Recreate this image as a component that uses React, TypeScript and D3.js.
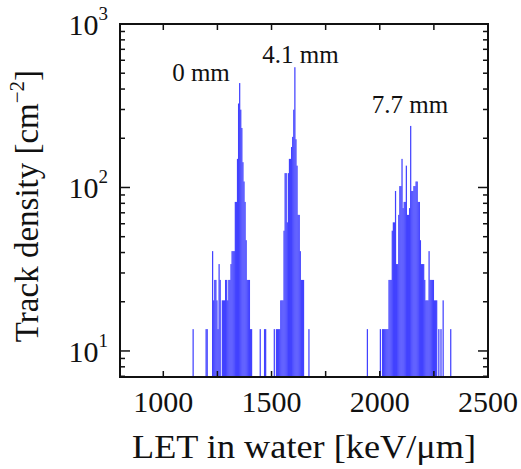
import React from 'react';
import * as d3 from 'd3';

// histogram bins (LET start, keV/um) and track counts per bin
const BIN_WIDTH = 5;
const TRACK_UNIT = 6.8; // cm^-2 per counted track

const let0mm = [1135, 1195, 1200, 1225, 1230, 1235, 1240, 1245, 1250, 1255, 1260, 1270, 1275, 1280, 1285, 1290, 1295, 1300, 1305, 1310, 1315, 1320, 1325, 1330, 1335, 1340, 1345, 1350, 1355, 1360, 1365, 1370, 1375, 1380, 1385, 1390, 1395, 1400, 1405];
const count0mm = [2, 2, 2, 6, 3, 4, 4, 3, 2, 5, 4, 3, 3, 3, 4, 4, 3, 4, 4, 5, 6, 6, 6, 12, 12, 22, 48, 64, 44, 34, 21, 16, 12, 7, 4, 4, 4, 2, 2];

const let41mm = [1445, 1465, 1470, 1510, 1520, 1525, 1530, 1535, 1540, 1545, 1550, 1555, 1560, 1565, 1570, 1575, 1580, 1585, 1590, 1595, 1600, 1605, 1610, 1615, 1620, 1625, 1630, 1635, 1640, 1645, 1670];
const count41mm = [2, 2, 2, 2, 2, 2, 2, 2, 3, 3, 3, 8, 18, 18, 9, 18, 22, 22, 26, 30, 44, 80, 29, 20, 10, 10, 6, 4, 4, 4, 2];

const let77mm = [1940, 2000, 2010, 2015, 2020, 2025, 2030, 2035, 2040, 2045, 2050, 2055, 2060, 2065, 2070, 2075, 2080, 2085, 2090, 2095, 2100, 2105, 2110, 2115, 2120, 2125, 2130, 2135, 2140, 2145, 2150, 2155, 2160, 2165, 2170, 2175, 2180, 2185, 2190, 2195, 2200, 2205, 2210, 2215, 2220, 2225, 2230, 2235, 2240, 2245, 2250, 2255, 2260, 2270, 2280, 2290, 2325];
const count77mm = [2, 2, 2, 2, 2, 2, 2, 2, 4, 4, 4, 8, 9, 9, 14, 5, 5, 10, 15, 15, 22, 11, 12, 12, 20, 10, 10, 11, 35, 14, 14, 15, 15, 16, 16, 12, 12, 7, 5, 5, 5, 4, 3, 3, 3, 6, 4, 4, 4, 4, 3, 3, 3, 2, 2, 3, 2];

const peakLabels = ['0 mm', '4.1 mm', '7.7 mm'];
const peakLabelLet = [1174, 1634, 2140];
const peakLabelValue = [448, 577, 286];

const xTicks = [1000, 1500, 2000, 2500];
const xMinorTicks = [1250, 1750, 2250];
const yDecades = [1, 2, 3];

const W = 521;
const H = 469;
const left = 120, right = 488, top = 24, bottom = 377;
const font = '"Liberation Serif", "Times New Roman", serif';

export default function App() {
  const x = d3.scaleLinear().domain([800, 2500]).range([left, right]);
  const y = d3.scaleLog().domain([6.93, 1000]).range([bottom, top]);

  const bins = [
    ...let0mm.map((l, i) => ({ l, n: count0mm[i] })),
    ...let41mm.map((l, i) => ({ l, n: count41mm[i] })),
    ...let77mm.map((l, i) => ({ l, n: count77mm[i] })),
  ].filter((b) => b.n > 0);

  // log minor ticks 2..9 per decade, inside the domain
  const yMinor: number[] = [];
  [0, 1, 2].forEach((e) => {
    for (let k = 2; k < 10; k++) {
      const v = k * Math.pow(10, e);
      if (v >= y.domain()[0] && v <= 1000) yMinor.push(v);
    }
  });

  return (
    <svg width={W} height={H} style={{ position: 'absolute', left: 0, top: 0, background: '#fff' }} fontFamily={font}>
      {/* bars */}
      <g fill="#4242ff">
        {bins.map((b, i) => (
          <rect key={i} x={x(b.l)} width={x(b.l + BIN_WIDTH) - x(b.l) + 0.15} y={y(b.n * TRACK_UNIT)} height={bottom - y(b.n * TRACK_UNIT)} />
        ))}
      </g>

      {/* ticks */}
      <g stroke="#111" strokeWidth={1.5}>
        {xTicks.concat(xMinorTicks).map((t) => (
          <g key={t}>
            <line x1={x(t)} x2={x(t)} y1={bottom} y2={bottom - 6} />
            <line x1={x(t)} x2={x(t)} y1={top} y2={top + 6} />
          </g>
        ))}
        {yDecades.map((e) => {
          const v = Math.pow(10, e);
          return (
            <g key={e}>
              <line x1={left} x2={left + 10} y1={y(v)} y2={y(v)} />
              <line x1={right} x2={right - 10} y1={y(v)} y2={y(v)} />
            </g>
          );
        })}
        {yMinor.map((v) => (
          <g key={v}>
            <line x1={left} x2={left + 5} y1={y(v)} y2={y(v)} />
            <line x1={right} x2={right - 5} y1={y(v)} y2={y(v)} />
          </g>
        ))}
      </g>

      {/* frame */}
      <rect x={left} y={top} width={right - left} height={bottom - top} fill="none" stroke="#111" strokeWidth={2} />

      {/* x tick labels */}
      {xTicks.map((t) => (
        <text key={t} x={x(t)} y={412} fontSize={30} textAnchor="middle" fill="#111">{t}</text>
      ))}

      {/* y tick labels */}
      {yDecades.map((e) => (
        <text key={e} x={108} y={y(Math.pow(10, e)) + 11} fontSize={30} textAnchor="end" fill="#111">
          10<tspan fontSize={19} dy={-15}>{e}</tspan>
        </text>
      ))}

      {/* peak labels */}
      {peakLabels.map((s, i) => (
        <text key={s} x={x(peakLabelLet[i])} y={y(peakLabelValue[i])} fontSize={25} textAnchor="middle" fill="#111">{s}</text>
      ))}

      {/* axis titles */}
      <text x={(left + right) / 2} y={458} fontSize={33} textAnchor="middle" textLength={344} lengthAdjust="spacingAndGlyphs" fill="#111">LET in water [keV/μm]</text>
      <text transform="translate(38,206) rotate(-90)" fontSize={33} textAnchor="middle" fill="#111">
        Track density [cm<tspan fontSize={21} dy={-14}>−2</tspan><tspan dy={14}>]</tspan>
      </text>
    </svg>
  );
}
